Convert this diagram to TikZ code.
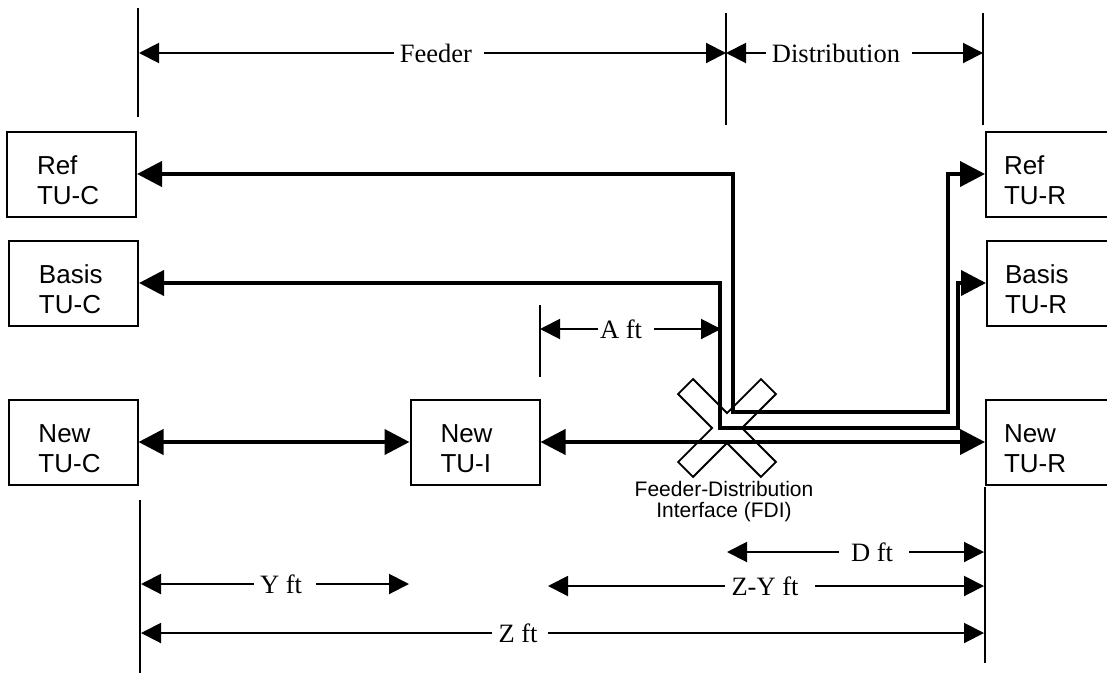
\documentclass[tikz,border=0pt]{standalone}
\usepackage{fontspec}
\setmainfont{Liberation Serif}
\setsansfont{Liberation Sans}
\usetikzlibrary{arrows.meta}
\tikzset{
  tubox/.style  = {draw, line width=1pt, minimum width=64.5pt, minimum height=42.5pt,
                   text width=34.5pt, inner xsep=15pt, align=left, text height=16pt,
                   font=\sffamily\fontsize{13}{15}\selectfont},
  tuboxr/.style = {tubox, text width=46.5pt, inner xsep=9pt},
  bus/.style    = {line width=2pt,
                   {Triangle[length=12.5pt,width=12.5pt]}-{Triangle[length=12.5pt,width=12.5pt]}},
  dim/.style    = {line width=1pt, -{Triangle[length=10pt,width=10pt]}},
  tick/.style   = {line width=1pt},
  lbl/.style    = {inner sep=0pt, font=\fontsize{13.25}{16}\selectfont},
  note/.style   = {align=center, inner sep=0pt, font=\sffamily\fontsize{10.5}{10.5}\selectfont},
}
\begin{document}
\begin{tikzpicture}[x=0.5pt,y=-0.5pt]
  \useasboundingbox (0,0) rectangle (1107,675);
  % FDI cross
  \begin{scope}[shift={(727,428)}]
    \foreach \ang in {45,-45}
      \draw[line width=2pt,rotate=\ang] (-57.5,-9.5) rectangle (57.5,9.5);
    \foreach \ang in {45,-45}
      \fill[white,rotate=\ang] (-57.5,-9.5) rectangle (57.5,9.5);
  \end{scope}
  \node[note] (fdi) at (724,502) {Feeder-Distribution\\Interface (FDI)};
  % terminals
  \node[tubox]  (refC) at (71.5,174)   {Ref\\TU-C};
  \node[tubox]  (basC) at (73.5,283)   {Basis\\TU-C};
  \node[tubox]  (newC) at (73,442)     {New\\TU-C};
  \node[tubox]  (newI) at (475,442)    {New\\TU-I};
  \node[tuboxr] (refR) at (1050.5,174) {Ref\\TU-R};
  \node[tuboxr] (basR) at (1051.5,283) {Basis\\TU-R};
  \node[tuboxr] (newR) at (1050.5,442) {New\\TU-R};
  % loops
  \draw[bus] (refC.east) -- (733,174) -- (733,412) -- (948,412) |- (refR.west);
  \draw[bus] (basC.east) -- (720,283) -- (720,428) -- (958,428) |- (basR.west);
  \draw[bus] (newC.east) -- (newI.west);
  \draw[bus] (newI.east) -- (newR.west);
  % extension lines
  \draw[tick] (138,8) -- (138,117);
  \draw[tick] (726,13) -- (726,125);
  \draw[tick] (983,13) -- (983,125);
  \draw[tick] (540,305) -- (540,377);
  \draw[tick] (140,500) -- (140,673);
  \draw[tick] (985,487) -- (985,663);
  % dimensions
  \coordinate (fL) at (139,53);
  \coordinate (fR) at (726,53);
  \coordinate (dR) at (983,53);
  \coordinate (aL) at (540,329);
  \coordinate (aR) at (721,329);
  \coordinate (dL) at (727,552);
  \coordinate (dRb) at (984,552);
  \coordinate (zyL) at (548,586);
  \coordinate (zyR) at (984,586);
  \coordinate (yL) at (141,584);
  \coordinate (yR) at (409,584);
  \coordinate (zL) at (141,633);
  \coordinate (zR) at (984,633);
  \node[lbl] (feeder) at (436,53)  {Feeder};
  \node[lbl] (distr)  at (836,53)  {Distribution};
  \node[lbl] (aft)    at (621,329) {A ft};
  \node[lbl] (dft)    at (872,552) {D ft};
  \node[lbl] (zyft)   at (765,586) {Z-Y ft};
  \node[lbl] (yft)    at (281,584) {Y ft};
  \node[lbl] (zft)    at (518,633) {Z ft};
  \draw[dim] ([xshift=-3pt]feeder.west) -- (fL);
  \draw[dim] ([xshift=6pt]feeder.east) -- (fR);
  \draw[dim] ([xshift=-3pt]distr.west) -- (fR);
  \draw[dim] ([xshift=6pt]distr.east) -- (dR);
  \draw[dim] ([xshift=-1pt]aft.west) -- (aL);
  \draw[dim] ([xshift=6pt]aft.east) -- (aR);
  \draw[dim] ([xshift=-6pt]dft.west) -- (dL);
  \draw[dim] ([xshift=8pt]dft.east) -- (dRb);
  \draw[dim] ([xshift=-3pt]zyft.west) -- (zyL);
  \draw[dim] ([xshift=8pt]zyft.east) -- (zyR);
  \draw[dim] ([xshift=-3pt]yft.west) -- (yL);
  \draw[dim] ([xshift=7pt]yft.east) -- (yR);
  \draw[dim] ([xshift=-3pt]zft.west) -- (zL);
  \draw[dim] ([xshift=5pt]zft.east) -- (zR);
\end{tikzpicture}
\end{document}
